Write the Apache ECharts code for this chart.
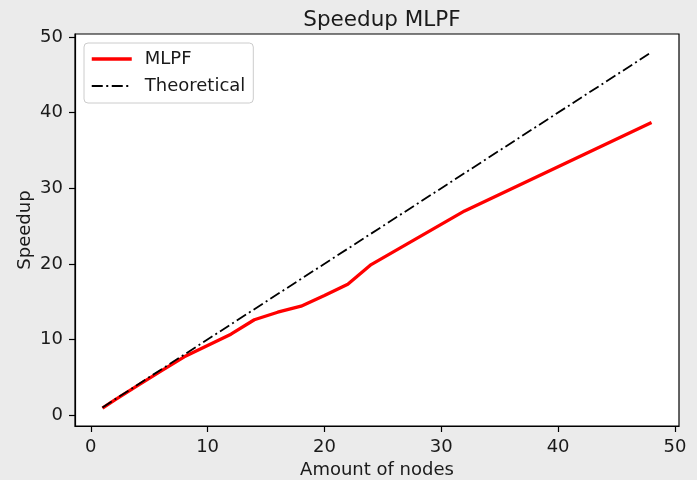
<!DOCTYPE html>
<html>
<head>
<meta charset="utf-8">
<script src="https://cdn.jsdelivr.net/npm/echarts@6/dist/echarts.min.js"></script>
<style>
  html, body { margin: 0; padding: 0; background: #ebebeb; }
  #chart { width: 697px; height: 480px; }
</style>
</head>
<body>
<div id="chart"></div>
<script>
// values
const nodes = [1, 2, 4, 6, 8, 10, 12, 14, 16, 18, 20, 22, 24, 32, 48];
const mlpfSpeedup = [0.9, 1.95, 3.9, 5.8, 7.7, 9.2, 10.7, 12.6, 13.6, 14.4, 15.8, 17.3, 19.9, 27.0, 38.7];
const theoreticalNodes = [1, 48];
const theoreticalSpeedup = [1, 48];
const xTicks = [0, 10, 20, 30, 40, 50];
const yTicks = [0, 10, 20, 30, 40, 50];

const font = 'DejaVu Sans';
const textColor = '#1a1a1a';

const chart = echarts.init(document.getElementById('chart'));

const pairs = (xs, ys) => xs.map((x, i) => [x, ys[i]]);

chart.setOption({
  backgroundColor: '#ebebeb',
  animation: false,
  title: {
    text: 'Speedup MLPF',
    left: 377,
    top: 4,
    textAlign: 'center',
    textStyle: { fontFamily: font, fontSize: 21.5, fontWeight: 'normal', color: textColor },
  },
  legend: {
    left: 84,
    top: 43,
    orient: 'vertical',
    padding: [7, 8, 8, 6],
    itemGap: 9,
    itemWidth: 40,
    itemHeight: 14,
    backgroundColor: 'rgba(255,255,255,0.8)',
    borderColor: '#cccccc',
    borderWidth: 1,
    borderRadius: 4,
    itemStyle: { opacity: 0 },
    textStyle: { fontFamily: font, fontSize: 18, color: textColor, padding: [0, 0, 0, 8] },
    data: [
      { name: 'MLPF', lineStyle: { width: 3.5 } },
      { name: 'Theoretical' },
    ],
  },
  grid: {
    left: 75,
    right: 18,
    top: 34,
    bottom: 54,
    outerBoundsMode: 'none',
    containLabel: false,
    show: true,
    backgroundColor: '#ffffff',
    borderColor: '#000000',
    borderWidth: 1.2,
  },
  xAxis: {
    type: 'value',
    min: -1.35,
    max: 50.35,
    name: 'Amount of nodes',
    nameLocation: 'middle',
    nameGap: 35,
    nameMoveOverlap: false,
    nameTextStyle: { fontFamily: font, fontSize: 18, color: textColor },
    axisLine: { show: true, onZero: false, lineStyle: { color: '#000', width: 1.2 } },
    axisTick: { show: true, length: 6, customValues: xTicks, lineStyle: { color: '#000', width: 1.2 } },
    axisLabel: { customValues: xTicks, margin: 12, fontFamily: font, fontSize: 18, color: textColor },
    splitLine: { show: false },
  },
  yAxis: {
    type: 'value',
    min: -1.45,
    max: 50.4,
    name: 'Speedup',
    nameLocation: 'middle',
    nameGap: 41,
    nameMoveOverlap: false,
    nameTextStyle: { fontFamily: font, fontSize: 18, color: textColor },
    axisLine: { show: true, onZero: false, lineStyle: { color: '#000', width: 1.2 } },
    axisTick: { show: true, length: 6, customValues: yTicks, lineStyle: { color: '#000', width: 1.2 } },
    axisLabel: { customValues: yTicks, margin: 12, fontFamily: font, fontSize: 18, color: textColor },
    splitLine: { show: false },
  },
  series: [
    {
      name: 'MLPF',
      type: 'line',
      data: pairs(nodes, mlpfSpeedup),
      showSymbol: false,
      symbol: 'none',
      lineStyle: { color: '#ff0000', width: 3.3 },
      itemStyle: { color: '#ff0000' },
      z: 2,
    },
    {
      name: 'Theoretical',
      type: 'line',
      data: pairs(theoreticalNodes, theoreticalSpeedup),
      showSymbol: false,
      symbol: 'none',
      lineStyle: { color: '#000000', width: 1.8, type: [11, 3.5, 2, 3.5] },
      itemStyle: { color: '#000000' },
      z: 3,
    },
  ],
});
</script>
</body>
</html>
